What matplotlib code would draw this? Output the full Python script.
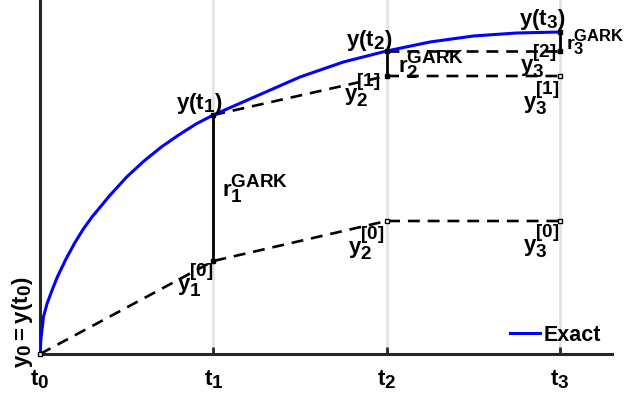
import matplotlib
matplotlib.use("Agg")
import matplotlib.pyplot as plt
import matplotlib._mathtext as mathtext_internals

plt.rcParams["font.family"] = ["Liberation Sans", "DejaVu Sans"]
plt.rcParams["font.weight"] = "bold"
plt.rcParams["mathtext.fontset"] = "custom"
plt.rcParams["mathtext.rm"] = "Liberation Sans:bold"
plt.rcParams["mathtext.bf"] = "Liberation Sans:bold"
plt.rcParams["mathtext.it"] = "Liberation Sans:bold"
# the original uses near full-size sub/superscripts
mathtext_internals.SHRINK_FACTOR = 0.85

# exact solution
exact_t = [0, 0.005, 0.01, 0.02, 0.04, 0.07, 0.1, 0.15, 0.2, 0.25, 0.3, 0.4, 0.5, 0.6, 0.7, 0.8, 0.9,
           1.0, 1.25, 1.5, 1.75, 2.0, 2.25, 2.5, 2.75, 3.0]
exact_y = [0, 14, 22, 37, 50, 64, 77, 95, 111, 125, 137, 158, 177, 193, 207, 219, 230,
           239, 258, 277, 292, 303, 312, 318, 321, 322]

t_nodes = [0, 1, 2, 3]
tick_labels = [r"$\mathbf{t_0}$", r"$\mathbf{t_1}$", r"$\mathbf{t_2}$", r"$\mathbf{t_3}$"]

# predictor sweeps (dashed)
sweep0_t = [0, 1, 2, 3]
sweep0_y = [0, 93, 133, 133]
sweep1_t = [1, 2, 3]
sweep1_y = [239, 278, 278]
sweep2_t = [2, 3]
sweep2_y = [303, 303]

# residuals (solid): t, lower, upper
res_t = [1, 2, 3]
res_lo = [93, 278, 303]
res_hi = [239, 303, 322]

DARK = "#262626"

fig = plt.figure(figsize=(6.27, 4.02), dpi=100)
ax = fig.add_axes([40 / 627, 47 / 402, 572 / 627, 355 / 402])
ax.set_xlim(0, 3.3)
ax.set_ylim(0, 355)

for t in t_nodes[1:]:
    ax.axvline(t, color="#e3e3e3", lw=2, zorder=0)

dash = (4.5, 3)
ax.plot(sweep0_t, sweep0_y, color="black", lw=1.9, dashes=dash, zorder=2)
ax.plot(sweep1_t, sweep1_y, color="black", lw=1.9, dashes=dash, zorder=2)
ax.plot(sweep2_t, sweep2_y, color="black", lw=1.9, dashes=dash, zorder=2)

ax.plot(exact_t, exact_y, color="#0000ff", lw=2.2, label="Exact", zorder=3)

for t, lo, hi in zip(res_t, res_lo, res_hi):
    ax.plot([t, t], [lo, hi], color="black", lw=2, zorder=4)
    ax.plot([t, t], [lo, hi], ls="none", marker="s", ms=3.5, mfc="black", mec="black", zorder=5)

# hollow markers at predicted ends
hollow = [(0, 0), (2, 133), (3, 133), (3, 278)]
for t, y in hollow:
    ax.plot(t, y, ls="none", marker="s", ms=3.5, mfc="white", mec="black", mew=1, zorder=5, clip_on=False)

fs = 16
labels = [
    (r"$\mathbf{y(t_1)}$", (1, 239), (9, 0), "right", "bottom", fs),
    (r"$\mathbf{y(t_2)}$", (2, 303), (6, -1), "right", "bottom", fs),
    (r"$\mathbf{y(t_3)}$", (3, 322), (6, 1), "right", "bottom", fs),
    (r"$\mathbf{r_1^{GARK}}$", (1, 166), (9, 0), "left", "center", fs),
    (r"$\mathbf{r_2^{GARK}}$", (2, 290.5), (11, 0), "left", "center", fs),
    (r"$\mathbf{r_3^{GARK}}$", (3, 312.5), (6, 0), "left", "center", 14),
    (r"$\mathbf{y_1^{[0]}}$", (1, 93), (0, 0), "right", "top", fs),
    (r"$\mathbf{y_2^{[0]}}$", (2, 133), (-2, -3), "right", "top", fs),
    (r"$\mathbf{y_3^{[0]}}$", (3, 133), (0, -1), "right", "top", fs),
    (r"$\mathbf{y_2^{[1]}}$", (2, 278), (-6, 5), "right", "top", fs),
    (r"$\mathbf{y_3^{[1]}}$", (3, 278), (0, -3), "right", "top", fs),
    (r"$\mathbf{y_3^{[2]}}$", (3, 303), (-3, 9), "right", "top", fs),
]
for text, xy, off, ha, va, size in labels:
    ax.annotate(text, xy=xy, xytext=off, textcoords="offset pixels",
                ha=ha, va=va, fontsize=size, zorder=6, annotation_clip=False)

ax.annotate(r"$\mathbf{y_0 = y(t_0)}$", xy=(0, 0), xytext=(-5, -13), textcoords="offset pixels",
            ha="right", va="bottom", rotation=90, fontsize=fs, annotation_clip=False)

for side in ("top", "right"):
    ax.spines[side].set_visible(False)
for side in ("left", "bottom"):
    ax.spines[side].set_color(DARK)
    ax.spines[side].set_linewidth(2.2)

ax.set_yticks([])
ax.set_xticks(t_nodes)
ax.set_xticklabels(tick_labels, fontsize=fs)
ax.tick_params(axis="x", direction="in", length=5, width=2, color=DARK, pad=10)

ax.legend(loc="center left", bbox_to_anchor=(510 / 627, 66 / 402), bbox_transform=fig.transFigure,
          frameon=False, handlelength=1.4, handletextpad=0.15,
          borderpad=0, borderaxespad=0, prop={"weight": "bold", "size": 15.5})

fig.savefig("out.png", dpi=100)
